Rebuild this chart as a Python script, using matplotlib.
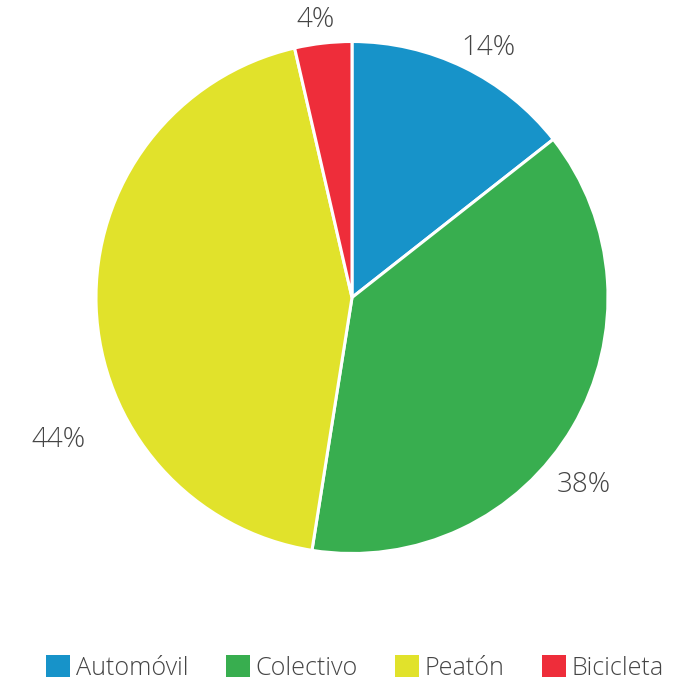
import matplotlib
matplotlib.use("Agg")
import matplotlib.pyplot as plt
import numpy as np
from matplotlib.patches import Patch

categories = ["Automóvil", "Colectivo", "Peatón", "Bicicleta"]
values = [14.4, 38.1, 43.9, 3.6]
labels = ["14%", "38%", "44%", "4%"]
colors = ["#1793C9", "#38AE4F", "#E1E22B", "#EE2D3A"]

# label placement (angle in degrees, radius relative to pie radius)
label_angle = [61.3, -39.0, 205.9, 97.4]
label_radius = [1.11, 1.165, 1.275, 1.095]

plt.rcParams['font.family'] = ['Open Sans', 'DejaVu Sans']

W, H = 696, 686
fig = plt.figure(figsize=(W / 100, H / 100), dpi=100)
cx, cy, r = 352, 297.5, 256
ax = fig.add_axes([(cx - r) / W, (H - cy - r) / H, 2 * r / W, 2 * r / H])
ax.pie(values, colors=colors, startangle=90, counterclock=False,
       wedgeprops=dict(edgecolor="white", linewidth=2.2))
ax.set_xlim(-1, 1)
ax.set_ylim(-1, 1)
ax.set_aspect("equal")
ax.axis("off")

for lab, a, rr in zip(labels, label_angle, label_radius):
    t = np.deg2rad(a)
    ax.text(rr * np.cos(t), rr * np.sin(t), lab,
            ha="center", va="center", fontsize=20, color="#454545",
            fontweight="light", clip_on=False)

handles = [Patch(facecolor=c, edgecolor="none") for c in colors]
fig.legend(handles, categories, loc="center", bbox_to_anchor=(0.5 + 7 / W, 1 - 668 / H),
           ncol=4, frameon=False, handlelength=0.95, handleheight=0.95,
           handletextpad=0.22, columnspacing=1.5, labelcolor="#454545",
           prop=dict(family=['Open Sans', 'DejaVu Sans'], weight='light', size=18.1))

fig.savefig("out.png", dpi=100)
